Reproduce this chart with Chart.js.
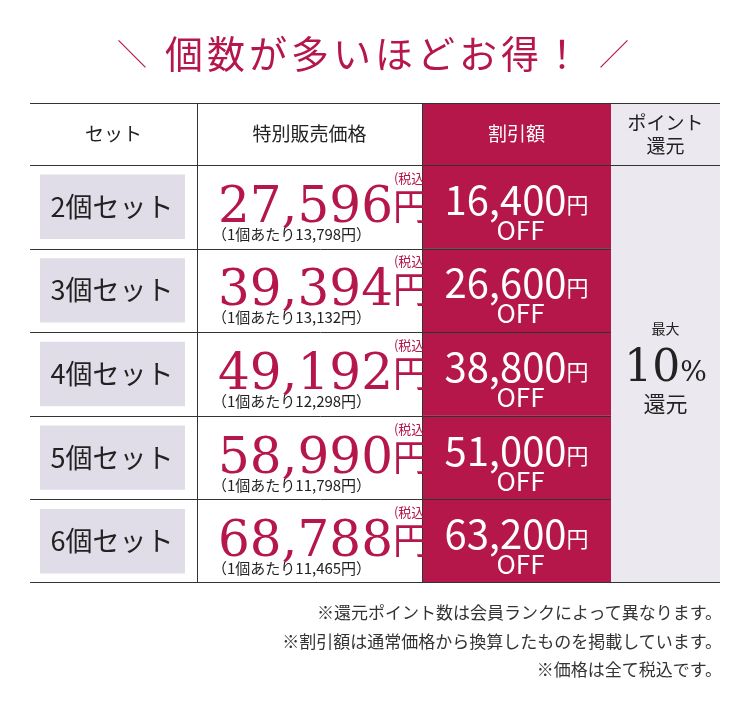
<!DOCTYPE html>
<html><head><meta charset="utf-8">
<script src="https://cdn.jsdelivr.net/npm/chart.js@4/dist/chart.umd.min.js"></script>
<style>
body{margin:0;background:#fff;width:750px;height:716px;position:relative;overflow:hidden;font-family:"Noto Sans CJK JP",sans-serif}
#title{position:absolute;top:24px;left:0;width:750px;text-align:center;color:#b5174b;font-size:38px;letter-spacing:4px}
#title span{font-weight:300;font-size:30px;color:#b5174b;margin:0 14px;position:relative;top:-3px}
#notes{position:absolute;right:28px;top:598px;text-align:right;font-size:17px;line-height:28.5px;color:#333}
canvas{position:absolute;left:0;top:0}
</style></head><body>
<canvas id="c" width="750" height="716"></canvas>
<div id="title"><span>＼</span>個数が多いほどお得！<span>／</span></div>
<div id="notes">※還元ポイント数は会員ランクによって異なります。<br>※割引額は通常価格から換算したものを掲載しています。<br>※価格は全て税込です。</div>
<script>
// データ
const sets = ['2個セット', '3個セット', '4個セット', '5個セット', '6個セット'];
const prices = [27596, 39394, 49192, 58990, 68788];
const unitPrices = [13798, 13132, 12298, 11798, 11465];
const discounts = [16400, 26600, 38800, 51000, 63200];
const headers = ['セット', '特別販売価格', '割引額', 'ポイント\n還元'];

const RED = '#b5174b';
const edges = [0, 167, 392, 581, 690]; // 列の境界
const fmt = n => n.toLocaleString('en-US');

const tablePlugin = {
    id: 'table',
    afterDatasetsDraw(chart) {
        const c = chart.ctx, x = chart.scales.x, y = chart.scales.y, a = chart.chartArea;
        const X = v => x.getPixelForValue(v);
        const rowH = y.getPixelForValue(1) - y.getPixelForValue(0);
        const hTop = a.top - 62;
        c.save();
        // ヘッダー
        c.fillStyle = RED; c.fillRect(X(edges[2]), hTop, X(edges[3]) - X(edges[2]), 62);
        c.fillStyle = '#ebe9ef'; c.fillRect(X(edges[3]), hTop, X(edges[4]) - X(edges[3]), 62);
        c.font = '19px "Noto Sans CJK JP"'; c.textAlign = 'center'; c.textBaseline = 'middle';
        headers.forEach((h, i) => {
            const cx = (X(edges[i]) + X(edges[i + 1])) / 2;
            c.fillStyle = i === 2 ? '#fff' : '#222';
            const lines = h.split('\n');
            lines.forEach((l, j) => c.fillText(l, cx, hTop + 31 + (j - (lines.length - 1) / 2) * 23));
        });
        // 罫線
        c.strokeStyle = '#333'; c.lineWidth = 1;
        c.beginPath();
        c.moveTo(a.left, hTop + .5); c.lineTo(a.right, hTop + .5);
        c.moveTo(a.left, a.top + .5); c.lineTo(a.right, a.top + .5);
        c.moveTo(a.left, a.bottom - .5); c.lineTo(a.right, a.bottom - .5);
        for (let i = 1; i < sets.length; i++) {
            const yy = Math.round(a.top + rowH * i) + .5;
            c.moveTo(a.left, yy); c.lineTo(X(edges[3]), yy);
        }
        [1, 2].forEach(i => { const xx = Math.round(X(edges[i])) + .5; c.moveTo(xx, hTop); c.lineTo(xx, a.bottom); });
        c.stroke();
        // 行
        sets.forEach((s, i) => {
            const cy = y.getPixelForValue(i);
            c.textBaseline = 'alphabetic';
            c.fillStyle = '#222'; c.textAlign = 'center';
            c.font = '27px "Noto Sans CJK JP"';
            c.fillText(s, X(82), cy + 10);
            // 価格
            c.textAlign = 'left'; c.fillStyle = RED;
            c.font = '50px "DejaVu Serif"';
            const p = fmt(prices[i]);
            const px = X(edges[1]) + 21;
            c.fillText(p, px, cy + 15);
            const pw = c.measureText(p).width;
            c.font = '36px "Noto Sans CJK JP"';
            c.fillText('円', px + pw, cy + 13);
            c.font = '13px "Noto Sans CJK JP"';
            c.fillText('(税込)', px + pw + 1, cy - 24);
            c.fillStyle = '#222'; c.font = '15px "Noto Sans CJK JP"';
            c.fillText('（1個あたり' + fmt(unitPrices[i]) + '円）', px - 6, cy + 33);
            // 割引額
            c.fillStyle = '#fff';
            const d = fmt(discounts[i]);
            c.font = '40px "Noto Sans CJK JP"';
            const dw = c.measureText(d).width;
            c.font = '22px "Noto Sans CJK JP"';
            const yw = c.measureText('円').width;
            const dx = (X(edges[2]) + X(edges[3])) / 2 - (dw + yw) / 2;
            c.font = '40px "Noto Sans CJK JP"'; c.fillText(d, dx, cy + 8);
            c.font = '22px "Noto Sans CJK JP"'; c.fillText('円', dx + dw, cy + 6);
            c.textAlign = 'center'; c.font = '26px "Noto Sans CJK JP"';
            c.fillText('OFF', (X(edges[2]) + X(edges[3])) / 2 + 4, cy + 33);
        });
        // ポイント還元
        const gx = (X(edges[3]) + X(edges[4])) / 2, gy = (a.top + a.bottom) / 2;
        c.fillStyle = '#222'; c.textAlign = 'center';
        c.font = '14px "Noto Sans CJK JP"'; c.fillText('最大', gx, gy - 40);
        c.font = '44px "DejaVu Serif"';
        const tw = c.measureText('10').width;
        c.font = '28px "DejaVu Serif"';
        const sw = c.measureText('%').width;
        c.textAlign = 'left';
        c.font = '44px "DejaVu Serif"'; c.fillText('10', gx - (tw + sw) / 2, gy + 7);
        c.font = '28px "DejaVu Serif"'; c.fillText('%', gx - (tw + sw) / 2 + tw, gy + 7);
        c.textAlign = 'center'; c.font = '22px "Noto Sans CJK JP"'; c.fillText('還元', gx, gy + 38);
        c.restore();
    }
};

new Chart(document.getElementById('c'), {
    type: 'bar',
    data: {
        labels: sets,
        datasets: [
            { data: sets.map(() => [10, 155]), backgroundColor: '#e0dde8', barPercentage: 0.77, categoryPercentage: 1, grouped: false },
            { data: discounts.map(() => [edges[2], edges[3]]), backgroundColor: RED, borderColor: '#4a1020', borderWidth: { top: 1, bottom: 0, left: 0, right: 0 }, borderSkipped: false, barPercentage: 1, categoryPercentage: 1, grouped: false },
            { data: sets.map(() => [edges[3], edges[4]]), backgroundColor: '#ebe9ef', barPercentage: 1.02, categoryPercentage: 1, grouped: false }
        ]
    },
    options: {
        indexAxis: 'y', responsive: false, animation: false,
        layout: { padding: { left: 30, right: 30, top: 165, bottom: 133 } },
        scales: {
            x: { type: 'linear', min: 0, max: 690, display: false },
            y: { display: false }
        },
        plugins: { legend: { display: false }, tooltip: { enabled: false } }
    },
    plugins: [tablePlugin]
});
</script>
</body></html>
